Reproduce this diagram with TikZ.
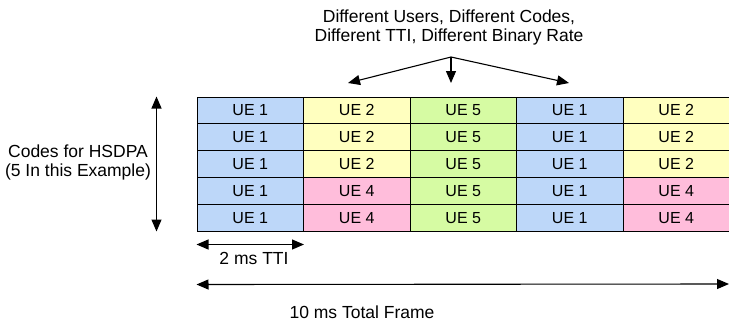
\documentclass[tikz,border=0pt]{standalone}
\usepackage{fontspec}
\setmainfont{Liberation Sans}
\usetikzlibrary{arrows.meta,calc,positioning}
\definecolor{UEblue}{RGB}{189,215,249}
\definecolor{UEyellow}{RGB}{255,255,191}
\definecolor{UEgreen}{RGB}{214,251,163}
\definecolor{UEpink}{RGB}{255,189,219}

\begin{document}
\begin{tikzpicture}[x=1pt,y=-1pt,
  cell/.style={draw=black,line width=1pt,minimum width=106.5pt,minimum height=26.8pt,
    inner sep=0pt,font=\fontsize{16}{18}\selectfont},
  lbl/.style={align=center,font=\fontsize{17.5}{19}\selectfont},
  arr/.style={line width=1.1pt,-{Triangle[length=12pt,width=10pt]}},
  dimarr/.style={line width=1.1pt,{Triangle[length=12pt,width=10pt]}-{Triangle[length=12pt,width=10pt]}}]
\useasboundingbox (0,0) rectangle (729,327);

% code slots: upper three rows / lower two rows per TTI
\foreach \c/\ua/\uc/\la/\lc in {1/1/UEblue/1/UEblue, 2/2/UEyellow/4/UEpink,
    3/5/UEgreen/5/UEgreen, 4/1/UEblue/1/UEblue, 5/2/UEyellow/4/UEpink}{
  \foreach \r in {1,2,3}
    \node[cell,fill=\uc] (c\c\r) at ({197+106.5*(\c-0.5)},{97+26.8*(\r-0.5)}) {UE \ua};
  \foreach \r in {4,5}
    \node[cell,fill=\lc] (c\c\r) at ({197+106.5*(\c-0.5)},{97+26.8*(\r-0.5)}) {UE \la};
}

% top note with its three arrows
\node[lbl] (note) at (449,27) {Different Users, Different Codes,\\Different TTI, Different Binary Rate};
\coordinate (fork) at (451,57);
\coordinate (hitL) at (348,83);
\coordinate (hitM) at (451,83);
\coordinate (hitR) at (569,83);
\draw[arr] (fork) -- (hitL);
\draw[arr] (fork) -- (hitM);
\draw[arr] (fork) -- (hitR);

% number of codes
\coordinate (codetop) at ($(c11.north west)+(-40,0)$);
\coordinate (codebot) at ($(c15.south west)+(-40,0)$);
\draw[dimarr] (codetop) -- (codebot);
\node[lbl] (codes) at (78,162) {Codes for HSDPA\\(5 In this Example)};

% one TTI
\coordinate (ttiL) at ($(c15.south west)+(0,13)$);
\coordinate (ttiR) at ($(c15.south east)+(0,13)$);
\draw[dimarr] (ttiL) -- (ttiR);
\node[lbl] (tti) at (254,258) {2 ms TTI};

% whole frame
\coordinate (frameL) at ($(c15.south west)+(0,53)$);
\coordinate (frameR) at (729,284);
\draw[dimarr] (frameL) -- (frameR);
\node[lbl] (frame) at (362,312) {10 ms Total Frame};
\end{tikzpicture}
\end{document}
